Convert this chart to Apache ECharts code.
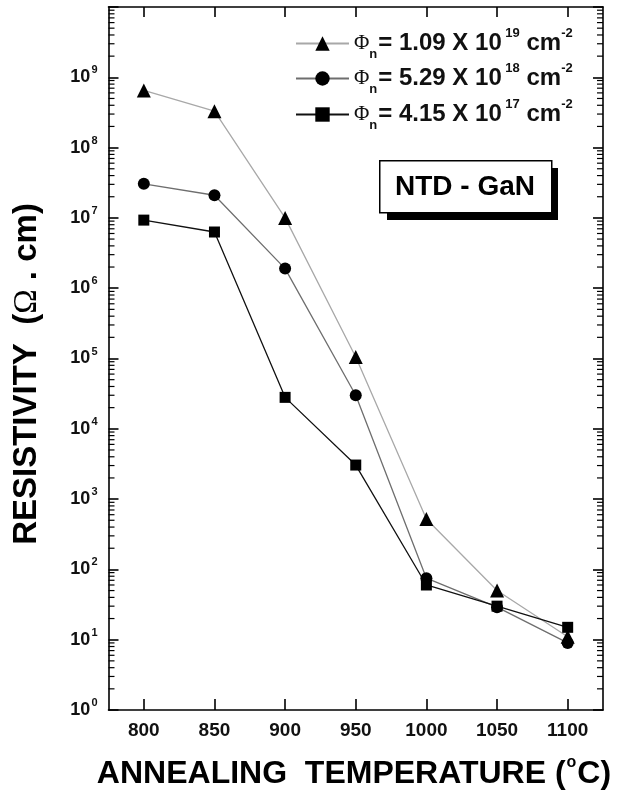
<!DOCTYPE html>
<html>
<head>
<meta charset="utf-8">
<script src="https://cdn.jsdelivr.net/npm/echarts@6.0.0/dist/echarts.min.js"></script>
<style>
html,body{margin:0;padding:0;background:#fff;}
#chart{width:618px;height:792px;}
</style>
</head>
<body>
<div id="chart"></div>
<script>
// ---- data ----
const temperatures = [800, 850, 900, 950, 1000, 1050, 1100];
const xTickLabels = [800, 850, 900, 950, 1000, 1050, 1100];
const yTickExponents = [0, 1, 2, 3, 4, 5, 6, 7, 8, 9];
const yTickMajorExponents = [0, 1, 2, 3, 4, 5, 6, 7, 8, 9, 10];
const seriesNames = ['phi1', 'phi2', 'phi3'];
const fluenceMantissa = ['1.09', '5.29', '4.15'];
const fluenceExponent = ['19', '18', '17'];
const rho_1_09e19 = [6.5e8, 3.3e8, 1.0e7, 1.05e5, 520, 50, 11];
const rho_5_29e18 = [3.05e7, 2.1e7, 1.9e6, 3.0e4, 75, 29, 9];
const rho_4_15e17 = [9.3e6, 6.3e6, 2.8e4, 3.05e3, 60, 30, 15];

const X_MIN = 775, X_MAX = 1125, Y_MIN = 1, Y_MAX = 1e10;

const yLabelValues = yTickExponents.map(e => Math.pow(10, e));
const yTickValues = yTickMajorExponents.map(e => Math.pow(10, e));
// minor tick values for log axis (2..9 x 10^k)
const minorTickValues = [];
for (let k = 0; k < 10; k++) for (let m = 2; m <= 9; m++) minorTickValues.push(m * Math.pow(10, k));

const pairs = (vals) => temperatures.map((t, i) => [t, vals[i]]);

const chart = echarts.init(document.getElementById('chart'), null, {renderer: 'canvas'});

const FONT = 'Liberation Sans, Arial, sans-serif';
const legendRich = {
  phi: {fontFamily: 'Liberation Serif', fontSize: 21, color: '#111'},
  sub: {fontFamily: FONT, fontSize: 13, fontWeight: 'bold', color: '#111', padding: [22, 1, 0, 0]},
  t: {fontFamily: FONT, fontSize: 24, fontWeight: 'bold', color: '#111'},
  sup: {fontFamily: FONT, fontSize: 13, fontWeight: 'bold', color: '#111', padding: [0, 0, 20, 0]}
};
function legendText(i) {
  return '{phi|\u03A6}{sub|n}{t|= ' + fluenceMantissa[i] + ' X 10}{sup| ' + fluenceExponent[i] + '}{t| cm}{sup|-2}';
}
const legendTops = [27, 62, 98];
const legends = seriesNames.map((n, i) => ({
  data: [n],
  left: 295,
  top: legendTops[i],
  padding: 0,
  itemWidth: 53,
  itemHeight: 18,
  itemGap: 0,
  itemTextGap: 8,
  textStyle: {rich: legendRich},
  formatter: () => legendText(i),
  selectedMode: false
}));

const lineSeries = [
  {name: 'phi1', data: pairs(rho_1_09e19), symbol: 'triangle', symbolSize: 14, lineColor: '#a8a8a8'},
  {name: 'phi2', data: pairs(rho_5_29e18), symbol: 'circle', symbolSize: 12, lineColor: '#6e6e6e'},
  {name: 'phi3', data: pairs(rho_4_15e17), symbol: 'rect', symbolSize: 11, lineColor: '#111'}
].map(s => ({
  type: 'line', name: s.name, data: s.data, symbol: s.symbol, symbolSize: s.symbolSize,
  showSymbol: true, z: 3,
  lineStyle: {color: s.lineColor, width: 1.3},
  itemStyle: {color: '#000', borderWidth: 0},
  emphasis: {disabled: true}
}));

const axisLine = {show: true, onZero: false, lineStyle: {color: '#000', width: 1.6}};

const option = {
  backgroundColor: '#fff',
  animation: false,
  grid: {left: 108.5, right: 15, top: 7, bottom: 82, containLabel: false},
  legend: legends,
  xAxis: [
    {type: 'value', position: 'bottom', min: X_MIN, max: X_MAX,
     axisLine: axisLine, splitLine: {show: false},
     axisTick: {inside: true, length: 11, lineStyle: {color: '#000', width: 1.6}, customValues: xTickLabels},
     axisLabel: {customValues: xTickLabels, formatter: (v) => String(v), margin: 11,
                 fontFamily: FONT, fontSize: 19, fontWeight: 'bold', color: '#111'}},
    {type: 'value', position: 'top', min: X_MIN, max: X_MAX,
     axisLine: axisLine, splitLine: {show: false},
     axisTick: {inside: true, length: 10, lineStyle: {color: '#000', width: 1.6}, customValues: xTickLabels},
     axisLabel: {show: false}}
  ],
  yAxis: [
    {type: 'log', logBase: 10, position: 'left', min: Y_MIN, max: Y_MAX,
     axisLine: axisLine, splitLine: {show: false},
     axisTick: {inside: true, length: 10, lineStyle: {color: '#000', width: 1.6}, customValues: yTickValues},
     axisLabel: {
       customValues: yLabelValues,
       hideOverlap: false,
       showMinLabel: true, showMaxLabel: true,
       margin: 11,
       formatter: (v) => {
         const e = Math.round(Math.log10(Number(v)));
         return '{b|10}{s|' + e + '}';
       },
       rich: {
         b: {fontFamily: FONT, fontSize: 18, fontWeight: 'bold', color: '#111'},
         s: {fontFamily: FONT, fontSize: 11, fontWeight: 'bold', color: '#111', padding: [0, 0, 14, 1]}
       }
     }},
    {type: 'log', logBase: 10, position: 'right', min: Y_MIN, max: Y_MAX,
     axisLine: axisLine, splitLine: {show: false},
     axisTick: {inside: true, length: 10, lineStyle: {color: '#000', width: 1.6}, customValues: yTickValues},
     axisLabel: {show: false}}
  ],
  series: [
    {
      type: 'custom', silent: true, z: 1, clip: false,
      data: minorTickValues.map(v => [X_MIN, v]),
      renderItem: (params, api) => {
        const v = api.value(1);
        const p = api.coord([X_MIN, v]);
        const q = api.coord([X_MAX, v]);
        return {type: 'group', children: [
          {type: 'line', shape: {x1: p[0], y1: p[1], x2: p[0] + 6, y2: p[1]}, style: {stroke: '#000', lineWidth: 1.2}},
          {type: 'line', shape: {x1: q[0] - 6, y1: q[1], x2: q[0], y2: q[1]}, style: {stroke: '#000', lineWidth: 1.2}}
        ]};
      }
    }
  ].concat(lineSeries),
  graphic: [
    {type: 'rect', left: 387, top: 168, shape: {width: 171, height: 52}, style: {fill: '#000'}, z: 10},
    {type: 'rect', left: 379, top: 160, shape: {width: 172, height: 52}, style: {fill: '#fff', stroke: '#000', lineWidth: 1.5}, z: 11},
    {type: 'text', x: 465, y: 187, z: 12,
     style: {text: 'NTD - GaN', fontFamily: FONT, fontSize: 28, fontWeight: 'bold', fill: '#000', align: 'center', verticalAlign: 'middle'}},
    {type: 'text', x: 354, y: 774, z: 12,
     style: {text: '{t|ANNEALING  TEMPERATURE (}{o|o}{t|C)}', align: 'center', verticalAlign: 'middle',
       rich: {t: {fontFamily: FONT, fontSize: 32, fontWeight: 'bold', fill: '#000'},
              o: {fontFamily: FONT, fontSize: 16, fontWeight: 'bold', fill: '#000', padding: [0, 1, 22, 1]}}}},
    {type: 'text', x: 27, y: 374, rotation: Math.PI / 2, z: 12,
     style: {text: '{t|RESISTIVITY  (}{w|\u03A9}{t| . cm)}', align: 'center', verticalAlign: 'middle',
       rich: {t: {fontFamily: FONT, fontSize: 33, fontWeight: 'bold', fill: '#000'},
              w: {fontFamily: 'Liberation Serif', fontSize: 33, fill: '#000'}}}}
  ]
};
chart.setOption(option);
</script>
</body>
</html>
